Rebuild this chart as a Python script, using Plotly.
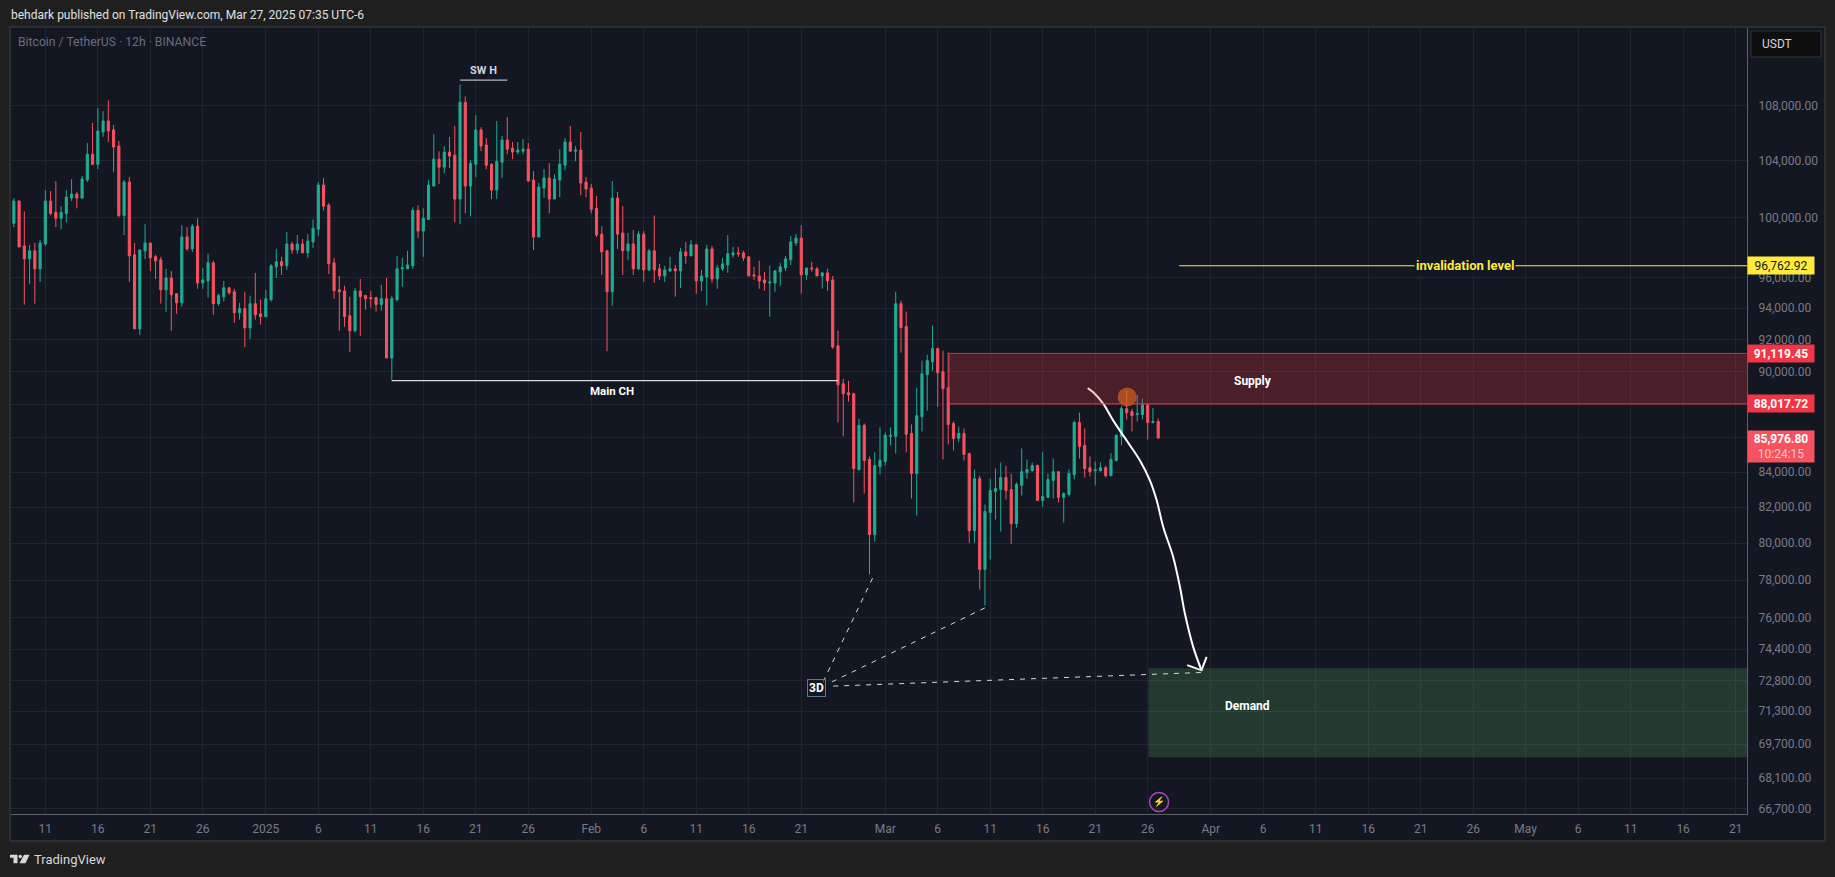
import math
import pandas as pd
import plotly.graph_objects as go

# ---- candle data: 12h BTC/USDT ----
first_bar = "2024-12-08 00:00"
opens = [
99620,101150,98090,97220,97760,96560,98220,101150,100370,99960,
100300,101360,101640,101360,102620,104460,103740,106060,106860,106210,
105040,100160,102480,97490,92670,97760,98290,97360,97160,95180,
95960,94930,94340,98690,97890,99420,95630,95760,96960,94280,
94730,95310,95050,93700,93960,92730,94280,93630,93440,94540,
96690,97030,96760,98220,97820,98220,97620,98360,99220,102270,
100870,96960,95180,95110,93510,92540,95110,94800,94670,94670,
94220,94600,90830,94540,96560,96560,96760,100510,99090,99890,
102200,104100,103530,104610,104390,101290,108240,102200,103740,106210,
105120,103740,101920,103880,105480,104890,104610,104670,104820,102620,
98690,102060,102760,101290,102620,103670,105330,104670,104750,102480,
102060,100650,98890,97760,95050,101360,98960,97760,98220,96560,
98890,96490,97760,96560,96090,96420,96560,96420,97690,97420,
98160,95760,96020,97890,95890,96560,96820,97490,97620,97620,
97360,96160,96090,95830,95630,95630,96360,96620,97160,98290,
98620,96160,96620,96560,96090,96290,95830,91600,89240,88690,
88630,84140,86730,84730,80470,84310,84610,86080,86080,94280,
92810,86250,83910,87250,89800,90600,91420,89980,89000,86840,
85960,86250,85080,80690,83620,78570,81700,82890,83000,83680,
83000,81080,83230,83960,84080,84370,82380,82550,83510,84020,
82550,82720,83850,86900,85550,84250,84080,84080,84250,83790,
84670,86080,87730,87550,87370,87370,87960,86900,86960]
closes = [
101150,98020,97220,97760,96560,98290,101150,100300,99960,100370,
101430,101640,101360,102690,104460,103740,106130,106860,106130,104970,
100160,102480,97420,92670,97820,98290,97290,97090,95180,95960,
94860,94340,98690,97890,99420,95630,95830,96960,94280,94800,
95310,94990,93700,93960,92730,94280,93570,93440,94600,96760,
97030,96760,98220,97820,98220,97620,98420,99290,102270,100800,
96890,95110,95050,93440,92540,95110,94730,94600,94600,94220,
94600,90830,94600,96560,96620,96820,100510,99090,99960,102270,
104100,103530,104610,104320,101290,108240,102200,103810,106210,105040,
103670,101920,103950,105480,104820,104610,104750,104820,102550,98690,
102130,102760,101290,102690,103740,105330,104670,104750,102410,101990,
100580,98820,97690,95050,101360,98890,97760,98220,96560,98890,
96490,97760,96490,96090,96490,96560,96420,97690,97420,98160,
95760,96090,97890,95890,96620,96890,97560,97620,97560,97290,
96090,96090,95760,95630,95700,96420,96690,97220,98360,98620,
96160,96620,96560,96090,96290,95760,91520,89180,88630,88570,
84200,86730,84670,80470,84370,84670,86140,86140,94280,92740,
86200,83910,87310,89860,90670,91420,89920,88940,86780,85960,
86250,85020,80690,83620,78570,81760,82940,83060,83680,82940,
81080,83280,84020,84140,84370,82380,82600,83570,84020,82550,
82770,83910,86900,85490,84200,84020,84140,84250,83790,84730,
86140,87730,87490,87310,87430,87960,86900,86960,85976.80]
highs = [
101360,101220,100440,98160,98290,98490,101920,101850,102550,100800,
101920,102690,101780,102900,105260,106720,107810,107590,108390,106570,
105410,102620,102830,98290,97820,99560,98290,97490,97360,96560,
96420,94930,99490,99360,99560,99960,96620,97560,97090,94930,
95760,95380,95250,94340,95050,94800,96290,94540,95180,96890,
97890,97360,99020,98360,98820,98560,98890,99890,102480,102760,
101010,97290,96090,95440,94730,95310,95890,94860,95110,94730,
95510,95960,94800,97420,97290,97760,100730,100870,100650,102620,
105910,104670,105040,105700,106500,109560,108680,104020,107300,106420,
105620,103810,106860,105770,107150,105330,105330,105550,105260,103250,
102410,103390,103810,103040,104820,105620,106500,105040,106060,102830,
102340,101500,99420,97820,102550,101780,100800,98960,99160,99090,
99090,97890,100160,96890,96760,97360,96820,97960,98360,98490,
98220,96490,98160,98090,96820,97290,98820,98020,98020,97760,
97360,96690,97090,96360,96760,96490,96960,97420,98760,98890,
99490,96620,97030,96690,96360,96560,96090,92550,89550,89430,
88690,87140,86840,84900,85140,86610,86310,86610,95060,94480,
93770,86790,89000,90670,91040,92870,91480,91290,91170,86960,
86670,86550,85080,84140,83790,82150,83620,84200,84550,84370,
83910,83400,85370,84730,84550,84430,85140,83910,84780,84020,
82830,84140,87020,87490,86550,84900,84610,84550,84370,85080,
86200,87900,88820,87730,88570,88330,88020,87780,87140]
lows = [
99360,98020,94220,95570,94280,95700,98090,100160,99360,99220,
99690,101150,100650,101290,102480,103670,103390,105700,105330,103180,
100020,98820,95700,92670,92280,97220,96420,95890,94280,93760,
92540,93630,94090,97760,97690,95250,95250,94670,93570,94150,
94410,94860,93050,93250,91520,92020,93250,92930,93440,94410,
95960,96160,96490,97560,97560,97620,97290,97960,98760,100510,
96220,94600,92540,92800,91210,92470,92220,93890,94020,93760,
93830,90830,89450,94410,95380,96560,96560,98620,97360,99890,
102200,102340,103110,103460,99690,99560,100300,100090,102830,104670,
103390,101290,101290,102760,104460,104100,104460,104460,102550,97820,
98690,101360,100300,101290,101430,103320,104670,103950,101570,101430,
100300,98690,96160,91270,94150,97890,96160,97160,96160,96490,
95700,96420,95630,95830,95700,96360,94730,95310,96890,97420,
94930,95110,94150,95630,95250,96420,96290,97290,97360,97090,
96090,95830,95250,95110,93440,95050,95440,96420,96820,98090,
94930,95830,96360,96090,95250,95110,91400,86900,86080,88140,
82260,84080,82770,78300,80070,83850,84370,85550,85080,91170,
85140,82490,81530,86370,87610,90040,87840,84730,85610,85250,
85730,84670,80020,80020,77500,76650,79110,81310,80640,82430,
79960,80860,82660,83620,84020,82380,82040,82550,82490,82260,
81140,82600,83570,84780,83680,83740,83230,84020,83680,83790,
84610,85550,87080,86370,86960,87080,85900,86840,85976.80]

# ---- axes ----
price_ticks = [108000,104000,100000,96000,94000,92000,90000,88000,86000,84000,
               82000,80000,78000,76000,74400,72800,71300,69700,68100,66700]
price_hidden = [88000, 86000]   # their labels sit behind the price badges in the reference
date_ticks = ["2024-12-11","2024-12-16","2024-12-21","2024-12-26","2025-01-01","2025-01-06",
              "2025-01-11","2025-01-16","2025-01-21","2025-01-26","2025-02-01","2025-02-06",
              "2025-02-11","2025-02-16","2025-02-21","2025-03-01","2025-03-06","2025-03-11",
              "2025-03-16","2025-03-21","2025-03-26","2025-04-01","2025-04-06","2025-04-11",
              "2025-04-16","2025-04-21","2025-04-26","2025-05-01","2025-05-06","2025-05-11",
              "2025-05-16","2025-05-21"]
date_labels = ["11","16","21","26","2025","6","11","16","21","26","Feb","6","11","16","21",
               "Mar","6","11","16","21","26","Apr","6","11","16","21","26","May","6","11","16","21"]

# ---- drawings ----
invalidation = 96762.92
supply_top, supply_bottom = 91119.45, 88017.72
demand_top, demand_bottom = 73430, 69080
last_price = 85976.80
path_dates = ["2025-03-20 06:45","2025-03-20 19:30","2025-03-21 18:15","2025-03-22 17:00",
              "2025-03-23 23:45","2025-03-25 06:15","2025-03-26 05:00","2025-03-26 20:30",
              "2025-03-27 11:30","2025-03-28 10:15","2025-03-29 01:45","2025-03-29 13:00",
              "2025-03-30 08:00","2025-03-31 03:00"]
path_prices = [88980,88730,88030,87030,85840,84670,83520,82390,80890,79250,77630,76230,74510,73320]
arrow_dates = ["2025-03-29 18:15","2025-03-31 03:00","2025-03-31 14:40"]
arrow_prices = [73580,73320,74000]
dashes = [("2025-02-23 02:00",72740,"2025-02-28 00:00",78350),
          ("2025-02-23 22:00",72740,"2025-03-10 13:00",76540),
          ("2025-02-24 01:00",72530,"2025-03-31 02:00",73210)]

PW, PH = 1835, 877
L, R, T, B = 11, 1747, 28, 814
lg = math.log10
def px(x): return (x - L) / (R - L)
def py(y): return (B - y) / (B - T)

dates = pd.date_range(first_bar, periods=len(opens), freq="12h")
UP, DOWN = "#22ab94", "#f7525f"
fig = go.Figure()
fig.add_trace(go.Candlestick(
    x=dates, open=opens, high=highs, low=lows, close=closes, whiskerwidth=0,
    increasing=dict(line=dict(color=UP, width=1), fillcolor=UP),
    decreasing=dict(line=dict(color=DOWN, width=1), fillcolor=DOWN),
    hoverinfo="skip", showlegend=False))
fig.add_trace(go.Scatter(x=path_dates, y=path_prices, mode="lines",
    line=dict(color="#ffffff", width=2, shape="spline"), hoverinfo="skip", showlegend=False))
fig.add_trace(go.Scatter(x=arrow_dates, y=arrow_prices, mode="lines",
    line=dict(color="#ffffff", width=2), hoverinfo="skip", showlegend=False))
fig.add_trace(go.Scatter(x=["2025-03-24 01:00"], y=[88430], mode="markers",
    marker=dict(size=19, color="rgba(220,130,20,0.6)", line=dict(width=0)), hoverinfo="skip", showlegend=False))
fig.add_trace(go.Scatter(x=["2025-03-27 02:00"], y=[66990], mode="markers",
    marker=dict(size=19, symbol="circle-open", color="#ab47bc", line=dict(width=1.5, color="#ab47bc")),
    hoverinfo="skip", showlegend=False))

shapes = [
    dict(type="rect", xref="paper", yref="paper", x0=px(10), x1=px(1825), y0=py(841), y1=py(27),
         fillcolor="#131722", line=dict(color="#2b2e35", width=2), layer="below"),
    dict(type="rect", xref="x", yref="y", x0="2025-03-07 02:00", x1="2025-05-30", y0=supply_bottom, y1=supply_top,
         fillcolor="rgba(242,54,69,0.25)", line=dict(width=0), layer="above"),
    dict(type="line", xref="x", yref="y", x0="2025-03-07 02:00", x1="2025-05-30", y0=supply_top, y1=supply_top,
         line=dict(color="#b73a45", width=1)),
    dict(type="line", xref="x", yref="y", x0="2025-03-07 02:00", x1="2025-05-30", y0=supply_bottom, y1=supply_bottom,
         line=dict(color="#f23645", width=1)),
    dict(type="line", xref="x", yref="y", x0="2025-03-07 02:00", x1="2025-03-07 02:00", y0=supply_bottom, y1=supply_top,
         line=dict(color="#b73a45", width=1)),
    dict(type="rect", xref="x", yref="y", x0="2025-03-26 02:00", x1="2025-05-30", y0=demand_bottom, y1=demand_top,
         fillcolor="rgba(104,198,109,0.2)", line=dict(width=0), layer="above"),
    dict(type="line", xref="x", yref="y", x0="2025-03-29 00:00", x1="2025-05-30", y0=invalidation, y1=invalidation,
         line=dict(color="#ffeb3b", width=1)),
    dict(type="line", xref="x", yref="y", x0="2025-01-13 00:00", x1="2025-02-24 12:00", y0=89430, y1=89430,
         line=dict(color="#d8d8dc", width=1.2)),
    dict(type="line", xref="x", yref="y", x0="2025-01-19 12:00", x1="2025-01-24 00:00", y0=109900, y1=109900,
         line=dict(color="#b8b8bc", width=1.2)),
    # TradingView logo, lower left
    dict(type="path", xref="paper", yref="paper", fillcolor="#d8d8d8", line=dict(width=0),
         path=f"M {px(10)} {py(854.7)} L {px(17.5)} {py(854.7)} L {px(17.5)} {py(863.3)} L {px(13.5)} {py(863.3)} "
              f"L {px(13.5)} {py(857.7)} L {px(10)} {py(857.7)} Z"),
    dict(type="path", xref="paper", yref="paper", fillcolor="#d8d8d8", line=dict(width=0),
         path=f"M {px(24)} {py(854.7)} L {px(29.5)} {py(854.7)} L {px(25.5)} {py(863.3)} L {px(19.5)} {py(863.3)} Z"),
    dict(type="circle", xref="paper", yref="paper", fillcolor="#d8d8d8", line=dict(width=0),
         x0=px(18.5), x1=px(22), y0=py(858.2), y1=py(854.7)),
    # USDT button
    dict(type="rect", xref="paper", yref="paper", x0=px(1751), x1=px(1821), y0=py(57), y1=py(31),
         fillcolor="#0f0f0f", line=dict(color="#2f3238", width=1)),
]
for x0, y0, x1, y1 in dashes:
    shapes.append(dict(type="line", xref="x", yref="y", x0=x0, x1=x1, y0=y0, y1=y1,
                       line=dict(color="#d8d8d8", width=1, dash="5px,6px")))

F = "Roboto"
def note(text, x, price, color="#ffffff", size=12, **kw):
    return dict(text=text, x=x, y=lg(price), xref="x", yref="y", showarrow=False,
                font=dict(family=F, size=size, color=color), **kw)
def page(text, x, y, color, size=12, anchor="left", **kw):
    return dict(text=text, x=px(x), y=py(y), xref="paper", yref="paper", showarrow=False,
                xanchor=anchor, yanchor="middle", font=dict(family=F, size=size, color=color), **kw)
def badge(text, price, bg, fg, **kw):
    d = dict(text=text, x=1, y=lg(price), xref="paper", yref="y", xanchor="left", xshift=0, showarrow=False,
             bgcolor=bg, width=66, height=17, borderpad=0, align="center",
             font=dict(family=F, size=12, color=fg))
    d.update(kw)
    return d

annotations = [
    page("behdark published on TradingView.com, Mar 27, 2025 07:35 UTC-6", 9, 15, "#e0e0e0"),
    page("Bitcoin / TetherUS · 12h · BINANCE", 16, 41.5, "#6a6d78", size=12.2),
    page("TradingView", 32, 859, "#d8d8d8", size=13),
    page("USDT", 1760, 44, "#d1d4dc"),
    note("<b>SW H</b>", "2025-01-21 18:00", 110600, color="#d1d4dc", size=11),
    note("<b>Main CH</b>", "2025-02-03 00:00", 88780, size=11.5),
    note("<b>Supply</b>", "2025-04-05 00:00", 89420),
    note("<b>Demand</b>", "2025-04-04 12:00", 71550),
    note("<b>invalidation level</b>", "2025-04-25 06:00", invalidation, color="#ffeb3b", size=13, bgcolor="#131722", borderpad=1),
    note("<b>3D</b>", "2025-02-22 12:00", 72440, size=12, bordercolor="#5d7a8c", borderwidth=1, borderpad=1,
         bgcolor="rgba(19,23,34,0.6)"),
    note("⚡", "2025-03-27 02:00", 66990, color="#ab47bc", size=10),
    badge("96,762.92", invalidation, "#ffeb3b", "#131722"),
    badge("<b>91,119.45</b>", supply_top, "#f23645", "#ffffff"),
    badge("<b>88,017.72</b>", supply_bottom, "#f23645", "#ffffff"),
    badge("<b>85,976.80</b><br><span style='color:#ffc9cd'>10:24:15</span>", last_price, "#f7525f", "#ffffff",
          height=31, yanchor="top", yshift=8),
]

fig.update_layout(
    width=PW, height=PH, autosize=False,
    margin=dict(l=L, r=PW - R, t=T, b=PH - B, pad=0),
    paper_bgcolor="#1f1f1f", plot_bgcolor="#131722",
    font=dict(family=F, size=12, color="#787b86"),
    showlegend=False, boxgap=0.42, hovermode=False,
    shapes=shapes, annotations=annotations,
    xaxis=dict(type="date", range=["2024-12-07 17:30", "2025-05-22 02:00"], tickmode="array",
               tickvals=date_ticks, ticktext=date_labels, tickangle=0,
               showgrid=True, gridcolor="#21252f", gridwidth=1, zeroline=False,
               showline=True, linecolor="#5d606b", linewidth=1, ticks="outside", ticklen=4, tickcolor="#131722",
               tickfont=dict(family=F, size=12, color="#787b86"), rangeslider=dict(visible=False)),
    yaxis=dict(type="log", side="right", range=[lg(66440), lg(113900)], tickmode="array",
               tickvals=price_ticks, ticktext=["" if v in price_hidden else f"{v:,.2f}" for v in price_ticks],
               showgrid=True, gridcolor="#21252f", gridwidth=1, zeroline=False,
               showline=True, linecolor="#5d606b", linewidth=1, ticks="outside", ticklen=8, tickcolor="#131722",
               tickfont=dict(family=F, size=12, color="#787b86")),
)

fig.write_html("out.html", config=dict(displayModeBar=False),
               post_script="document.body.style.margin='0';document.body.style.background='#1f1f1f';")
